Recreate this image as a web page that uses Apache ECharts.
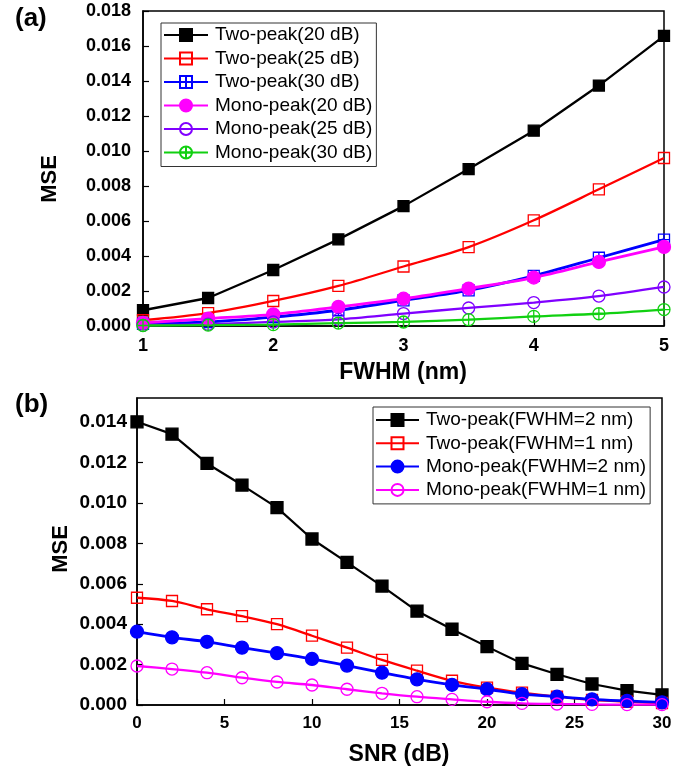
<!DOCTYPE html>
<html>
<head>
<meta charset="utf-8">
<script src="https://cdn.jsdelivr.net/npm/echarts@6/dist/echarts.min.js"></script>
<style>html,body{margin:0;padding:0;background:#fff;}#c{width:697px;height:773px;}</style>
</head>
<body>
<div id="c"></div>
<script>
// ---- Panel (a) data: MSE vs FWHM ----
const fwhm = [1, 1.5, 2, 2.5, 3, 3.5, 4, 4.5, 5];
const twoPeak20 = [0.0009, 0.0016, 0.0032, 0.00495, 0.00685, 0.00897, 0.01116, 0.01374, 0.01658];
const twoPeak25 = [0.00033, 0.00074, 0.00143, 0.00229, 0.0034, 0.00451, 0.00604, 0.00781, 0.0096];
const twoPeak30 = [0.00013, 0.00023, 0.00051, 0.0009, 0.00147, 0.00204, 0.00287, 0.0039, 0.00494];
const monoPeak20 = [0.00018, 0.00042, 0.00067, 0.00109, 0.00156, 0.00214, 0.00277, 0.00366, 0.00452];
const monoPeak25 = [0.00004, 0.0001, 0.00023, 0.00038, 0.00071, 0.00103, 0.00134, 0.00171, 0.00223];
const monoPeak30 = [0.00003, 0.00005, 0.00008, 0.00017, 0.00023, 0.00036, 0.00055, 0.0007, 0.00094];

// ---- Panel (b) data: MSE vs SNR ----
const snr = [0, 2, 4, 6, 8, 10, 12, 14, 16, 18, 20, 22, 24, 26, 28, 30];
const twoPeakF2 = [0.01402, 0.01341, 0.01196, 0.01089, 0.00977, 0.00822, 0.00706, 0.00589, 0.00465, 0.00375, 0.00289, 0.00206, 0.00152, 0.00104, 0.00071, 0.0005];
const twoPeakF1 = [0.00531, 0.00515, 0.00474, 0.0044, 0.004, 0.00343, 0.00284, 0.00223, 0.0017, 0.0012, 0.00086, 0.00061, 0.00041, 0.00025, 0.00016, 0.0001];
const monoPeakF2 = [0.00363, 0.00335, 0.00313, 0.00284, 0.00257, 0.00228, 0.00195, 0.0016, 0.00127, 0.001, 0.00078, 0.00054, 0.00041, 0.00028, 0.0002, 0.00013];
const monoPeakF1 = [0.00193, 0.00178, 0.0016, 0.00135, 0.00114, 0.00099, 0.00078, 0.00058, 0.00041, 0.00028, 0.00016, 0.00008, 0.00005, 0.00003, 0.00002, 0.00002];

const xTicksA = [1, 2, 3, 4, 5];
const xTicksB = [0, 5, 10, 15, 20, 25, 30];

const FONT = '"Liberation Sans", Arial, sans-serif';
const SQX = 'path://M0,0H10V10H0ZM5,0V10M0,5H10';
const CIRX = 'path://M10,5A5,5,0,1,1,0,5A5,5,0,1,1,10,5ZM5,0V10M0,5H10';
const T = 'rgba(0,0,0,0)';

function pair(xs, ys) { return xs.map((x, i) => [x, ys[i]]); }

function mk(name, xi, xs, ys, color, symbol, size, filled, smooth, lw) {
  return {
    name: name, type: 'line', xAxisIndex: xi, yAxisIndex: xi,
    data: pair(xs, ys), symbol: symbol, symbolSize: size, smooth: smooth,
    showAllSymbol: true,
    lineStyle: { color: color, width: lw },
    itemStyle: { color: filled ? color : T, borderColor: color, borderWidth: 1.3 },
    emphasis: { disabled: true }
  };
}

const axisCommonX = (gi, min, max, interval, fs, margin) => ({
  type: 'value', gridIndex: gi, min: min, max: max, interval: interval,
  axisLine: { show: true, onZero: false, lineStyle: { color: '#000', width: 1.5 } },
  axisTick: { show: true, inside: true, length: 6, lineStyle: { color: '#000', width: 1.2 } },
  axisLabel: { color: '#000', fontFamily: FONT, fontWeight: 'bold', fontSize: fs, margin: margin },
  splitLine: { show: false }
});
const axisCommonY = (gi, min, max, interval, fs, margin) => ({
  type: 'value', gridIndex: gi, min: min, max: max, interval: interval,
  axisLine: { show: true, onZero: false, lineStyle: { color: '#000', width: 1.5 } },
  axisTick: { show: true, inside: true, length: 6, lineStyle: { color: '#000', width: 1.2 } },
  axisLabel: { color: '#000', fontFamily: FONT, fontWeight: 'bold', fontSize: fs, margin: margin,
    showMaxLabel: max === 0.018, formatter: v => v.toFixed(3) },
  splitLine: { show: false }
});

const chart = echarts.init(document.getElementById('c'), null, { renderer: 'canvas' });
chart.setOption({
  animation: false,
  backgroundColor: '#fff',
  grid: [
    { left: 143, right: 33, top: 11, bottom: 447, show: true, borderColor: '#000', borderWidth: 1.5, backgroundColor: 'transparent' },
    { left: 137, right: 35, top: 398, bottom: 68, show: true, borderColor: '#000', borderWidth: 1.5, backgroundColor: 'transparent' }
  ],
  xAxis: [axisCommonX(0, 1, 5, 1, 18, 11), axisCommonX(1, 0, 30, 5, 17, 10)],
  yAxis: [axisCommonY(0, 0, 0.018, 0.002, 18, 12), axisCommonY(1, 0, 0.0152, 0.002, 19, 10)],
  legend: [
    {
      left: 161, top: 23, orient: 'vertical',
      data: ['Two-peak(20 dB)', 'Two-peak(25 dB)', 'Two-peak(30 dB)', 'Mono-peak(20 dB)', 'Mono-peak(25 dB)', 'Mono-peak(30 dB)'],
      itemWidth: 44, itemHeight: 15, itemGap: 3.5,
      padding: [2, 4, 4, 2],
      borderColor: '#333', borderWidth: 1,
      textStyle: { fontFamily: FONT, fontSize: 19, color: '#000', lineHeight: 20, padding: [0, 0, 0, 2] }
    },
    {
      left: 373, top: 407, orient: 'vertical',
      data: ['Two-peak(FWHM=2 nm)', 'Two-peak(FWHM=1 nm)', 'Mono-peak(FWHM=2 nm)', 'Mono-peak(FWHM=1 nm)'],
      itemWidth: 43, itemHeight: 15, itemGap: 3.3,
      padding: [3, 4, 4, 2],
      borderColor: '#333', borderWidth: 1,
      textStyle: { fontFamily: FONT, fontSize: 19, color: '#000', lineHeight: 20, padding: [0, 0, 0, 2] }
    }
  ],
  graphic: [
    { type: 'text', left: 15, top: 6, style: { text: '(a)', font: 'bold 26px ' + FONT, fill: '#000' } },
    { type: 'text', left: 15, top: 392, style: { text: '(b)', font: 'bold 26px ' + FONT, fill: '#000' } },
    { type: 'text', x: 50, y: 179, rotation: Math.PI / 2, style: { text: 'MSE', font: 'bold 22px ' + FONT, fill: '#000', align: 'center', verticalAlign: 'middle' } },
    { type: 'text', x: 61, y: 549, rotation: Math.PI / 2, style: { text: 'MSE', font: 'bold 22px ' + FONT, fill: '#000', align: 'center', verticalAlign: 'middle' } },
    { type: 'text', x: 403, y: 373, style: { text: 'FWHM (nm)', font: 'bold 23px ' + FONT, fill: '#000', align: 'center', verticalAlign: 'middle' } },
    { type: 'text', x: 399, y: 755, style: { text: 'SNR (dB)', font: 'bold 23px ' + FONT, fill: '#000', align: 'center', verticalAlign: 'middle' } }
  ],
  series: [
    mk('Two-peak(20 dB)', 0, fwhm, twoPeak20, '#000000', 'rect', 11, true, false, 2.3),
    mk('Two-peak(25 dB)', 0, fwhm, twoPeak25, '#ff0000', 'rect', 11, false, 0.3, 2.3),
    mk('Two-peak(30 dB)', 0, fwhm, twoPeak30, '#0000ff', SQX, 11, false, 0.3, 2.8),
    mk('Mono-peak(20 dB)', 0, fwhm, monoPeak20, '#ff00ff', 'circle', 13, true, 0.3, 2.8),
    mk('Mono-peak(25 dB)', 0, fwhm, monoPeak25, '#8000ff', 'circle', 12, false, 0.3, 2.3),
    mk('Mono-peak(30 dB)', 0, fwhm, monoPeak30, '#11d011', CIRX, 12, false, 0.3, 2.3),
    mk('Two-peak(FWHM=2 nm)', 1, snr, twoPeakF2, '#000000', 'rect', 12, true, false, 2.2),
    mk('Two-peak(FWHM=1 nm)', 1, snr, twoPeakF1, '#ff0000', 'rect', 11, false, 0.3, 2.3),
    mk('Mono-peak(FWHM=2 nm)', 1, snr, monoPeakF2, '#0000ff', 'circle', 13, true, 0.3, 2.8),
    mk('Mono-peak(FWHM=1 nm)', 1, snr, monoPeakF1, '#ff00ff', 'circle', 12, false, 0.3, 2.3)
  ]
});
</script>
</body>
</html>
